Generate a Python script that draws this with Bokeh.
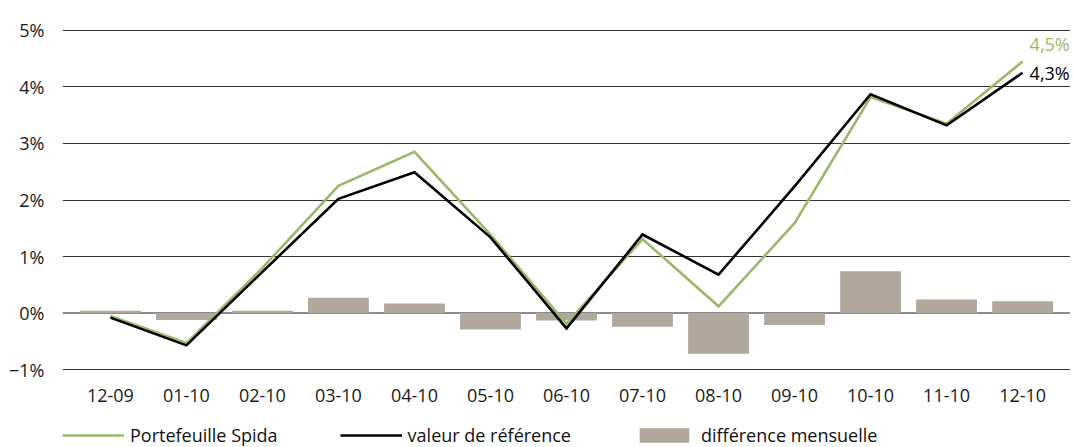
from bokeh.plotting import figure
from bokeh.layouts import column
from bokeh.models import (FactorRange, Range1d, FixedTicker, Span, Legend, LegendItem,
                          ColumnDataSource)
from bokeh.core.properties import value
from bokeh.embed import file_html
from bokeh.resources import INLINE

months = ["12-09", "01-10", "02-10", "03-10", "04-10", "05-10", "06-10",
          "07-10", "08-10", "09-10", "10-10", "11-10", "12-10"]
spida = [-0.05, -0.53, 0.80, 2.25, 2.85, 1.39, -0.19, 1.31, 0.12, 1.59, 3.82, 3.35, 4.45]
reference = [-0.08, -0.57, 0.73, 2.02, 2.49, 1.34, -0.27, 1.39, 0.68, 2.24, 3.87, 3.32, 4.25]
monthly_diff = [0.04, -0.12, 0.04, 0.27, 0.17, -0.29, -0.13, -0.24, -0.72, -0.21, 0.74, 0.24, 0.21]
y_ticks = [-1, 0, 1, 2, 3, 4, 5]
y_tick_labels = ["\u22121%", "0%", "1%", "2%", "3%", "4%", "5%"]
end_labels = ["4,5%", "4,3%"]
series_names = ["Portefeuille Spida", "valeur de r\u00e9f\u00e9rence", "diff\u00e9rence mensuelle"]

GREEN = "#9bb86a"
BLACK = "#000000"
BAR = "#b0a79d"
FONT = "Open Sans"
FS = "18px"
W = 1070

p = figure(width=W, height=411, output_backend="svg", toolbar_location=None,
           x_range=FactorRange(factors=months, range_padding=0.13, range_padding_units="absolute"),
           y_range=Range1d(-1.05, 5.05),
           min_border_left=62, min_border_right=0, min_border_top=27, min_border_bottom=39)
p.outline_line_color = None
p.background_fill_color = "white"
p.border_fill_color = "white"

for ax in (p.xaxis[0], p.yaxis[0]):
    ax.axis_line_color = None
    ax.major_tick_line_color = None
    ax.minor_tick_line_color = None
    ax.major_label_text_font = FONT
    ax.major_label_text_font_size = FS
    ax.major_label_text_color = "#1a1a1a"
p.yaxis.ticker = FixedTicker(ticks=y_ticks)
p.yaxis.major_label_overrides = {t: l for t, l in zip(y_ticks, y_tick_labels)}
p.yaxis.major_label_standoff = 12
p.xaxis.major_label_standoff = 10

p.xgrid.grid_line_color = None
p.ygrid.grid_line_color = "#333333"
p.ygrid.grid_line_width = 1
p.ygrid.ticker = FixedTicker(ticks=y_ticks)

zero = Span(location=0, dimension="width", line_color="#8c8c8c", line_width=2, level="underlay")
p.add_layout(zero)

src = ColumnDataSource(dict(m=months, spida=spida, ref=reference, diff=monthly_diff))
p.vbar(x="m", top="diff", bottom=0, width=0.8, source=src, fill_color=BAR, line_color=None)
p.line(x="m", y="spida", source=src, line_color=GREEN, line_width=2.6, line_join="miter")
p.line(x="m", y="ref", source=src, line_color=BLACK, line_width=2.6, line_join="miter")

lab_src = ColumnDataSource(dict(x=[months[-1], months[-1]], y=[spida[-1], reference[-1]],
                                t=end_labels, c=[GREEN, BLACK], dy=[-17, 0]))
p.text(x="x", y="y", text="t", source=lab_src, text_color="c", y_offset="dy", x_offset=7,
       text_font=value(FONT), text_font_size=FS, text_baseline="middle", text_align="left")

# legend strip: same series drawn off-range so only their legend entries show
q = figure(width=W, height=36, output_backend="svg", toolbar_location=None,
           x_range=FactorRange(factors=months), y_range=Range1d(100, 101),
           x_axis_type=None, y_axis_type=None,
           min_border_left=0, min_border_right=0, min_border_top=0, min_border_bottom=0)
q.outline_line_color = None
q.grid.visible = False
q.background_fill_color = "white"
q.border_fill_color = "white"
lg = q.line(x="m", y="spida", source=src, line_color=GREEN, line_width=2.6)
lb = q.line(x="m", y="ref", source=src, line_color=BLACK, line_width=2.6)
lv = q.vbar(x="m", top="diff", bottom=0, width=0.8, source=src, fill_color=BAR, line_color=None)

legend = Legend(items=[LegendItem(label=series_names[0], renderers=[lg]),
                       LegendItem(label=series_names[1], renderers=[lb]),
                       LegendItem(label=series_names[2], renderers=[lv])],
                orientation="horizontal", location=(0, 0),
                glyph_width=62, glyph_height=18, label_height=18,
                label_standoff=6, spacing=62, padding=0, margin=0,
                label_text_font=FONT, label_text_font_size=FS,
                label_text_color="#111111",
                background_fill_alpha=0, border_line_color=None)
q.add_layout(legend, "center")

open("out.html", "w").write(file_html(column(p, q, spacing=0), INLINE))
